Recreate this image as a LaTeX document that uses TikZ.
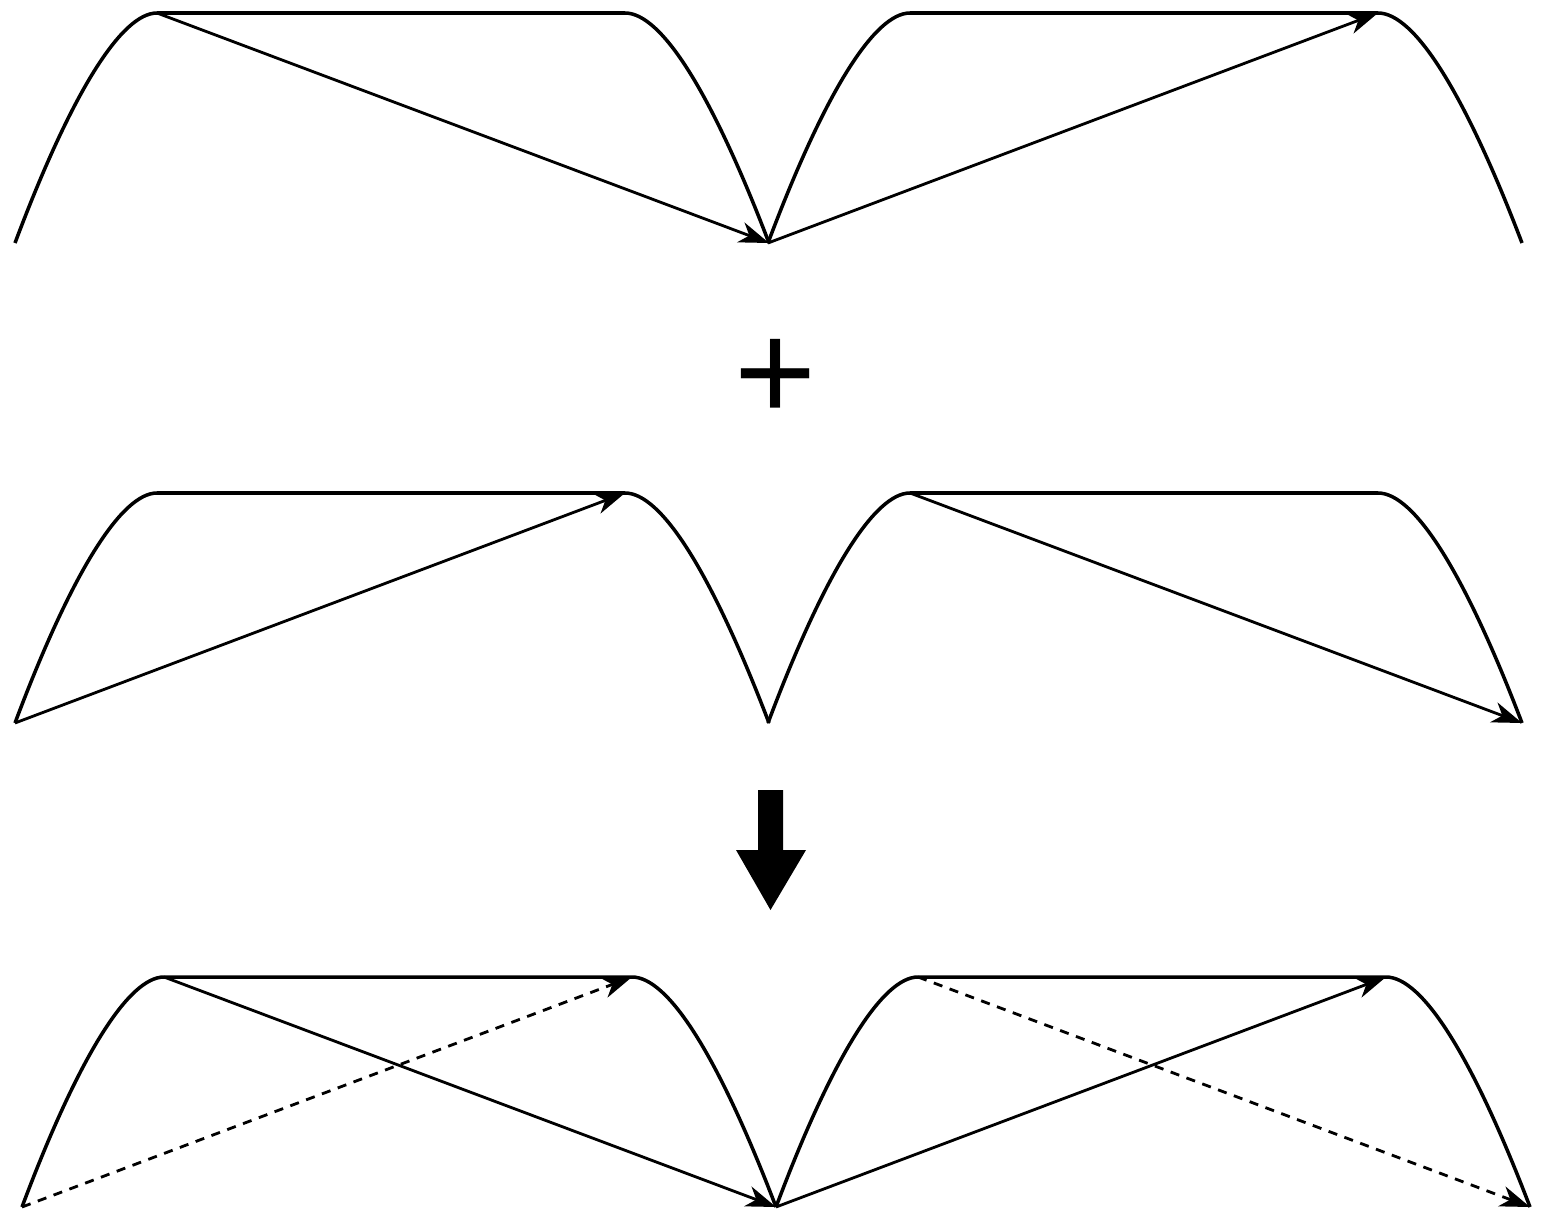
\documentclass[tikz,border=0pt]{standalone}
\usepackage{fontspec}
\newfontfamily\plusfont{Liberation Sans}
\usetikzlibrary{arrows.meta}
\tikzset{
  hump/.style={line width=1pt, line join=round},
  flow/.style={-{Stealth[length=3mm,width=2.1mm,inset=0.9mm]}, line width=0.8pt},
  flowd/.style={flow, dash pattern=on 2.6pt off 2.2pt},
  bigarr/.style={fill=black, draw=none},
  opsym/.style={font=\plusfont\fontsize{40}{40}\selectfont, inner sep=0pt},
}
% one hump: name, x and y of its bottom-left end
\newcommand{\hump}[3]{%
  \begin{scope}[shift={(#2,#3)}]
    \coordinate (#1-bl) at (0,0);
    \coordinate (#1-tl) at (1.42,2.3);
    \coordinate (#1-tr) at (6.1,2.3);
    \coordinate (#1-br) at (7.54,0);
    \draw[hump] (#1-bl) .. controls (0.57,1.52) and (1.07,2.3) .. (#1-tl)
      -- (#1-tr) .. controls (6.46,2.3) and (6.96,1.52) .. (#1-br);
  \end{scope}}

\begin{document}
\begin{tikzpicture}
\useasboundingbox (0,0) rectangle (15.5,12.11);

% ================= first row =================
\hump{a1}{0.15}{9.68}
\hump{b1}{7.68}{9.68}
\draw[flow] (a1-tl) -- (a1-br);
\draw[flow] (b1-bl) -- (b1-tr);

\node[opsym] (plus) at (7.76,8.31) {+};

% ================= second row =================
\hump{a2}{0.15}{4.88}
\hump{b2}{7.68}{4.88}
\draw[flow] (a2-bl) -- (a2-tr);
\draw[flow] (b2-tl) -- (b2-br);

% big arrow down
\fill[bigarr] (7.58,4.21) -- (7.83,4.21) -- (7.83,3.61) -- (8.06,3.61)
  -- (7.705,3.01) -- (7.36,3.61) -- (7.58,3.61) -- cycle;

% ================= result row =================
\hump{a3}{0.22}{0.04}
\hump{b3}{7.76}{0.04}
\draw[flow] (a3-tl) -- (a3-br);
\draw[flowd] (a3-bl) -- (a3-tr);
\draw[flow] (b3-bl) -- (b3-tr);
\draw[flowd] (b3-tl) -- (b3-br);
\end{tikzpicture}
\end{document}
